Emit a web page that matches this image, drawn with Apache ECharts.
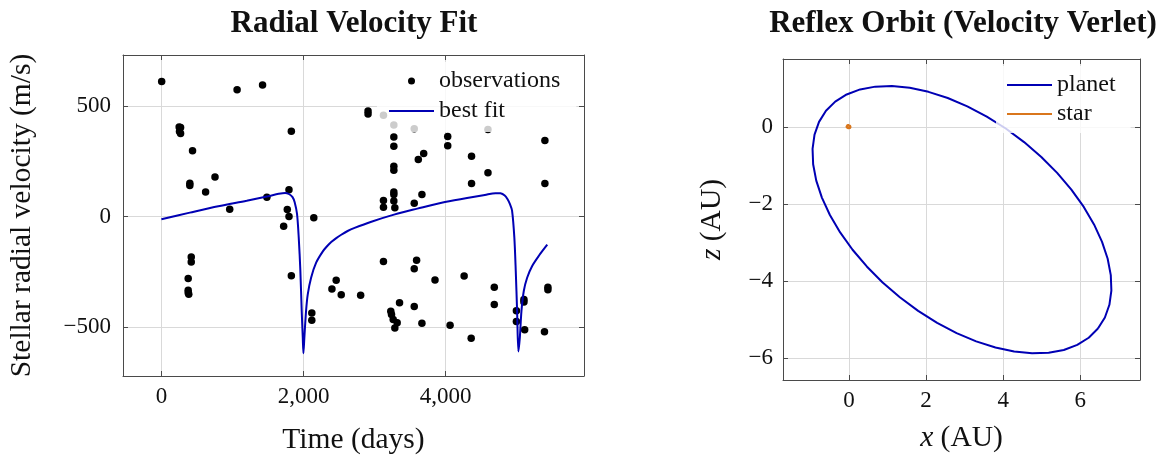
<!DOCTYPE html>
<html><head><meta charset="utf-8">
<script src="https://cdn.jsdelivr.net/npm/echarts@6/dist/echarts.min.js"></script>
<style>html,body{margin:0;padding:0;background:#fff}#c{width:1166px;height:456px}</style>
</head><body><div id="c"></div>
<script>
// ---- Radial velocity observations (time in days, velocity in m/s) ----
const obsT = [4, 1065, 1423, 250, 270, 255, 270, 1828, 438, 400, 400, 754, 622, 1795, 1484, 961, 1771, 1795, 2144,
  1720, 420, 420, 377, 377, 377, 385, 1828, 2116, 2116, 2459, 2399, 2530, 2803,
  3124, 3590, 3557, 3849, 4259, 4683, 4683, 3350, 3557, 3227, 3237, 3261, 3317, 3284, 3665, 4061, 4358,
  4994, 4994, 5100, 5100, 5110, 5389, 5437, 5437,
  2907, 2907, 3124, 3270, 3557, 4594, 3270, 3270, 4028, 4028, 5395, 3614, 3690, 4363, 3270, 3270, 4594,
  4363, 5395, 3270, 3270, 3665, 3124, 3124, 3270, 3284, 3557];
const obsV = [610, 573, 595, 405, 403, 385, 375, 386, 298, 151, 141, 179, 111, 121, 88, 33, 32, 1, -5,
  -44, -182, -205, -280, -333, -344, -351, -267, -435, -468, -288, -327, -353, -355,
  -203, -197, -236, -286, -268, -319, -397, -389, -406, -427, -442, -465, -480, -503, -482, -491, -550,
  -425, -474, -375, -386, -511, -520, -319, -330,
  477, 464, 458, 414, 397, 394, 360, 318, 362, 320, 344, 258, 285, 273, 227, 209, 198,
  150, 149, 111, 100, 100, 73, 42, 70, 40, 60];
// ---- Best-fit Keplerian curve ----
const fitT = [0, 400, 800, 1200, 1500, 1650, 1740, 1800, 1845, 1875, 1908, 1932, 1955, 1974, 1989, 1998, 2011, 2035, 2059,
  2106, 2177, 2271, 2330, 2389, 2460, 2530, 2620, 2718, 2954, 3284, 3600, 3943, 4300, 4550, 4700, 4770, 4830, 4870, 4905, 4933, 4965,
  4985, 5004, 5022, 5042, 5065, 5098, 5145, 5216, 5310, 5428];
const fitV = [-12, 18, 47, 72, 92, 103, 107, 101, 88, 65, 12, -94, -245, -427, -548, -617, -548, -427, -351,
  -276, -208, -157, -134, -115, -97, -82, -65, -51, -23, 10, 36, 63, 84, 98, 106, 105, 95, 78, 55, 27, -94,
  -245, -427, -609, -548, -427, -336, -276, -223, -177, -127];
// ---- Reflex orbit (AU) ----
const planetX = [6.459, 6.639, 6.756, 6.807, 6.792, 6.711, 6.565, 6.357, 6.091, 5.769, 5.400, 4.989, 4.542, 4.067,
  3.574, 3.069, 2.561, 2.061, 1.575, 1.111, 0.680, 0.287, -0.062, -0.359, -0.599, -0.779, -0.896, -0.947,
  -0.932, -0.851, -0.705, -0.497, -0.231, 0.091, 0.460, 0.871, 1.318, 1.793, 2.286, 2.791, 3.299, 3.799,
  4.285, 4.749, 5.180, 5.573, 5.922, 6.219, 6.459];
const planetZ = [-5.225, -4.938, -4.608, -4.239, -3.839, -3.415, -2.974, -2.522, -2.069, -1.620, -1.186, -0.772, -0.386, -0.034,
  0.276, 0.542, 0.757, 0.918, 1.022, 1.067, 1.053, 0.981, 0.850, 0.664, 0.425, 0.138, -0.192, -0.561,
  -0.961, -1.385, -1.826, -2.278, -2.731, -3.180, -3.614, -4.028, -4.414, -4.766, -5.076, -5.342, -5.557, -5.718,
  -5.822, -5.867, -5.853, -5.781, -5.650, -5.464, -5.225];
const starX = [0.00, -0.03, -0.05, -0.06, -0.04, 0.00, 0.03, 0.03, 0.00];
const starZ = [0.05, 0.05, 0.03, 0.01, -0.01, -0.02, -0.01, 0.02, 0.05];
// ---- Tick labels ----
const rvXTicks = [0, 2000, 4000];
const rvYTicks = [-500, 0, 500];
const orbXTicks = [0, 2, 4, 6];
const orbZTicks = [-6, -4, -2, 0];

const FONT = 'Liberation Serif';
const AX = '#4a4a4a';
const BLUE = '#0000b4';
const ORANGE = '#d9761c';
const TICK_FS = 23;
const NAME_FS = 29.5;

function fmtNum(v) {
  let s = Math.abs(v).toLocaleString('en-US');
  return v < 0 ? '\u2212' + s : s;
}
function tickFmt(ticks) {
  return v => ticks.some(t => Math.abs(t - v) < 1e-9) ? fmtNum(v) : '';
}
function labelStyle(margin, ticks) {
  return { fontFamily: FONT, fontSize: TICK_FS, color: '#111', margin: margin,
    showMinLabel: false, showMaxLabel: false, formatter: tickFmt(ticks) };
}
function nameStyle() {
  return { fontFamily: FONT, fontSize: NAME_FS, color: '#111',
    rich: { it: { fontFamily: FONT, fontSize: NAME_FS, fontStyle: 'italic', color: '#111' } } };
}
function mainAxis(extra) {
  return Object.assign({
    type: 'value',
    axisLine: { show: true, onZero: false, lineStyle: { color: AX, width: 1 } },
    axisTick: { show: true, inside: true, length: 5, lineStyle: { color: AX } },
    splitLine: { show: true, lineStyle: { color: '#d9d9d9', width: 1 } },
    nameLocation: 'middle',
    nameTextStyle: nameStyle()
  }, extra);
}
function mirrorAxis(extra) {
  return Object.assign({
    type: 'value',
    axisLine: { show: true, onZero: false, lineStyle: { color: AX, width: 1 } },
    axisTick: { show: true, inside: true, length: 5, lineStyle: { color: AX } },
    splitLine: { show: false },
    axisLabel: { show: false }
  }, extra);
}

const chart = echarts.init(document.getElementById('c'), null, { renderer: 'canvas' });
const rvX = { min: -540, max: 5945, splitNumber: 3 };
const rvY = { min: -720, max: 730, splitNumber: 3 };
const orX = { min: -1.714, max: 7.55, splitNumber: 4 };
const orY = { min: -6.56, max: 1.77, splitNumber: 4 };

chart.setOption({
  animation: false,
  backgroundColor: '#fff',
  title: [
    { text: 'Radial Velocity Fit', left: 349, top: 3, textAlign: 'center',
      textStyle: { fontFamily: FONT, fontWeight: 'bold', fontSize: 31, color: '#111' } },
    { text: 'Reflex Orbit (Velocity Verlet)', left: 958, top: 3, textAlign: 'center',
      textStyle: { fontFamily: FONT, fontWeight: 'bold', fontSize: 31, color: '#111' } }
  ],
  grid: [
    { left: 123, top: 55, width: 461, height: 321, containLabel: false, outerBoundsMode: 'none' },
    { left: 783, top: 59, width: 357, height: 321, containLabel: false, outerBoundsMode: 'none' }
  ],
  xAxis: [
    mainAxis(Object.assign({ gridIndex: 0, position: 'bottom', name: 'Time (days)', nameGap: 49,
      axisLabel: labelStyle(9, rvXTicks) }, rvX)),
    mirrorAxis(Object.assign({ gridIndex: 0, position: 'top' }, rvX)),
    mainAxis(Object.assign({ gridIndex: 1, position: 'bottom', name: '{it|x} (AU)', nameGap: 43,
      axisLabel: labelStyle(9, orbXTicks) }, orX)),
    mirrorAxis(Object.assign({ gridIndex: 1, position: 'top' }, orX))
  ],
  yAxis: [
    mainAxis(Object.assign({ gridIndex: 0, position: 'left', name: 'Stellar radial velocity (m/s)', nameGap: 86,
      axisLabel: labelStyle(12, rvYTicks) }, rvY)),
    mirrorAxis(Object.assign({ gridIndex: 0, position: 'right' }, rvY)),
    mainAxis(Object.assign({ gridIndex: 1, position: 'left', name: '{it|z} (AU)', nameGap: 56,
      axisLabel: labelStyle(10, orbZTicks) }, orY)),
    mirrorAxis(Object.assign({ gridIndex: 1, position: 'right' }, orY))
  ],
  legend: [
    { data: ['observations', { name: 'best fit', itemStyle: { opacity: 0 } }], orient: 'vertical', left: 377, top: 62,
      padding: [7, 16, 9, 11], itemWidth: 45, itemHeight: 7, itemGap: 6, selectedMode: false,
      backgroundColor: 'rgba(255,255,255,0.8)',
      textStyle: { fontFamily: FONT, fontSize: 24, color: '#111', lineHeight: 24 } },
    { data: [{ name: 'planet', itemStyle: { opacity: 0 } }, { name: 'star', itemStyle: { opacity: 0 } }],
      orient: 'vertical', left: 996, top: 66, padding: [7, 15, 7, 10],
      itemWidth: 45, itemHeight: 7, itemGap: 5, selectedMode: false,
      backgroundColor: 'rgba(255,255,255,0.8)',
      textStyle: { fontFamily: FONT, fontSize: 24, color: '#111', lineHeight: 24 } }
  ],
  series: [
    { name: 'observations', type: 'scatter', xAxisIndex: 0, yAxisIndex: 0, symbol: 'circle', symbolSize: 7.5,
      itemStyle: { color: '#000', opacity: 1 }, data: obsT.map((t, i) => [t, obsV[i]]) },
    { name: 'best fit', type: 'line', xAxisIndex: 0, yAxisIndex: 0, showSymbol: false, symbol: 'none', smooth: 0.3,
      lineStyle: { color: BLUE, width: 2 }, itemStyle: { color: BLUE }, data: fitT.map((t, i) => [t, fitV[i]]) },
    { name: 'planet', type: 'line', xAxisIndex: 2, yAxisIndex: 2, showSymbol: false, symbol: 'none', smooth: false,
      lineStyle: { color: BLUE, width: 2, join: 'round' }, itemStyle: { color: BLUE }, data: planetX.map((x, i) => [x, planetZ[i]]) },
    { name: 'star', type: 'line', xAxisIndex: 2, yAxisIndex: 2, showSymbol: false, symbol: 'none', smooth: 0.5,
      lineStyle: { color: ORANGE, width: 2.5 }, itemStyle: { color: ORANGE }, data: starX.map((x, i) => [x, starZ[i]]) }
  ]
});
</script>
</body></html>
